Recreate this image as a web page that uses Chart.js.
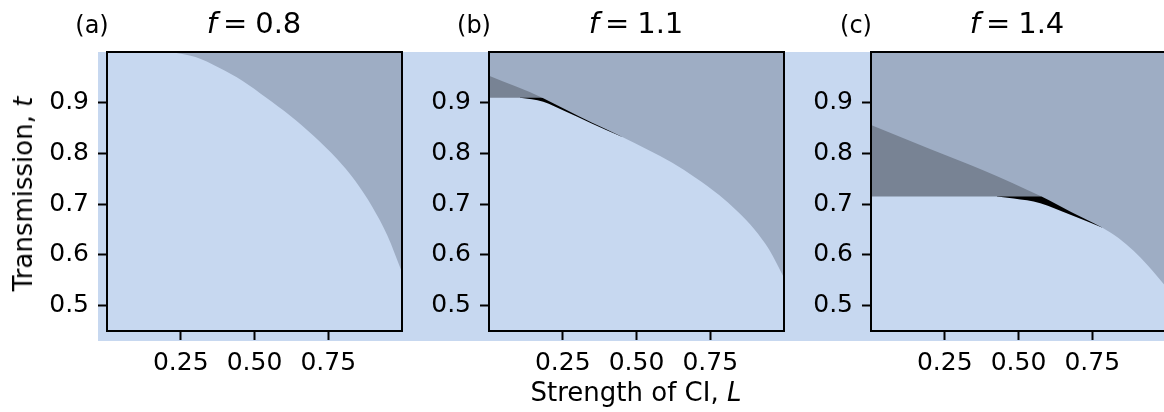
<!DOCTYPE html>
<html>
<head>
<meta charset="utf-8">
<script src="https://cdn.jsdelivr.net/npm/chart.js@4.4.0/dist/chart.umd.min.js"></script>
<style>
  html, body { margin: 0; padding: 0; background: #fff; overflow: hidden; }
  body { width: 1164px; height: 412px; position: relative; font-family: 'DejaVu Sans', sans-serif; color: #000; }
  #band { position: absolute; left: 98px; top: 52px; width: 1066px; height: 289px; background: #c7d8f0; }
  canvas { position: absolute; top: 0; }
  .txt { position: absolute; white-space: nowrap; line-height: 1; }
  .tag { font-size: 24px; top: 13px; transform: translateX(-50%); }
  .ttl { font-size: 29px; top: 9px; transform: translateX(-50%); }
  .ttl i { margin-right: 6px; }
  .ttl span { margin-right: 8px; }
  .ax { font-size: 26px; }
</style>
</head>
<body>
<div id="band"></div>
<canvas id="pa" width="385" height="412" style="left:27px"></canvas>
<canvas id="pb" width="385" height="412" style="left:409px"></canvas>
<canvas id="pc" width="385" height="412" style="left:791px"></canvas>

<div class="txt tag" style="left:92px">(a)</div>
<div class="txt tag" style="left:474px">(b)</div>
<div class="txt tag" style="left:856px">(c)</div>

<div class="txt ttl" style="left:254px"><i>f</i><span>=</span>0.8</div>
<div class="txt ttl" style="left:636px"><i>f</i><span>=</span>1.1</div>
<div class="txt ttl" style="left:1017px"><i>f</i><span>=</span>1.4</div>

<div class="txt ax" style="left:23px; top:194px; transform: translate(-50%, -50%) rotate(-90deg)">Transmission, <i>t</i></div>
<div class="txt ax" style="left:636px; top:379px; transform: translateX(-50%)">Strength of CI, <i>L</i></div>

<script>
// axis ticks
const xTicks = [0.25, 0.5, 0.75]
const yTicks = [0.5, 0.6, 0.7, 0.8, 0.9]

// (a) f = 0.8 : upper edge of the light region
const edgeL_a = [0.22, 0.30, 0.38, 0.46, 0.54, 0.62, 0.70, 0.78, 0.84, 0.90, 0.95, 1.0]
const edgeT_a = [1.0, 0.99, 0.969, 0.943, 0.910, 0.875, 0.835, 0.789, 0.747, 0.694, 0.639, 0.566]

// (b) f = 1.1
const edgeL_b = [0, 0.105, 0.145, 0.184, 0.258, 0.348, 0.45, 0.54, 0.62, 0.70, 0.78, 0.84, 0.90, 0.95, 1.0]
const edgeT_b = [0.91, 0.91, 0.907, 0.902, 0.883, 0.859, 0.833, 0.807, 0.782, 0.752, 0.718, 0.687, 0.650, 0.610, 0.555]
const upperL_b = [0, 0.184, 0.258, 0.348, 0.45]
const upperT_b = [0.953, 0.909, 0.887, 0.861, 0.833]
const shelfL_b = [0, 0.184]
const shelfT_b = [0.91, 0.91]

// (c) f = 1.4
const edgeL_c = [0, 0.427, 0.484, 0.574, 0.676, 0.783, 0.84, 0.89, 0.94, 1.0]
const edgeT_c = [0.715, 0.715, 0.711, 0.702, 0.679, 0.654, 0.633, 0.608, 0.578, 0.537]
const upperL_c = [0, 0.2, 0.38, 0.578, 0.68, 0.783]
const upperT_c = [0.856, 0.809, 0.767, 0.715, 0.684, 0.654]
const shelfL_c = [0, 0.578]
const shelfT_c = [0.715, 0.715]

const GREY = '#9eadc4'
const DARK = '#788394'
const BLACK = '#000000'

Chart.defaults.font.family = "'DejaVu Sans', sans-serif"
Chart.defaults.color = '#000'

function pts(Ls, Ts) {
    return Ls.map((x, i) => ({ x: x, y: Ts[i] }))
}

function area(data, color, order) {
    return {
        data: data,
        order: order,
        fill: 'end',
        backgroundColor: color,
        borderColor: 'rgba(0,0,0,0)',
        borderWidth: 0,
        pointRadius: 0,
        cubicInterpolationMode: 'monotone'
    }
}

function layers(edgeL, edgeT, upperL, upperT, shelfL, shelfT) {
    const edge = pts(edgeL, edgeT)
    if (!upperL) {
        return [area(edge, GREY, 1)]
    }
    const meet = upperL[upperL.length - 1]
    const knee = Math.max(...edgeL.filter((x, i) => edgeT[i] === edgeT[0]))
    return [
        area(edge.filter(p => p.x >= knee && p.x <= meet), BLACK, 3),
        area(pts(shelfL, shelfT), DARK, 2),
        area(pts(upperL, upperT).concat(edge.filter(p => p.x > meet)), GREY, 1)
    ]
}

// black frame round the plot area
const frame = {
    id: 'frame',
    afterDatasetsDraw(chart) {
        const { ctx, chartArea: a } = chart
        ctx.save()
        ctx.strokeStyle = '#000'
        ctx.lineWidth = 2
        ctx.strokeRect(a.left, a.top, a.right - a.left, a.bottom - a.top)
        ctx.restore()
    }
}

function makePanel(id, datasets) {
    const ctx = document.getElementById(id).getContext('2d')
    return new Chart(ctx, {
        type: 'line',
        data: { datasets: datasets },
        plugins: [frame],
        options: {
            responsive: false,
            animation: false,
            devicePixelRatio: 1,
            layout: { padding: { top: 52, right: 10, left: 0, bottom: 0 } },
            plugins: {
                legend: { display: false },
                tooltip: { enabled: false }
            },
            scales: {
                x: {
                    type: 'linear',
                    min: 0,
                    max: 1,
                    afterFit: s => { s.height = 81 },
                    afterBuildTicks: s => { s.ticks = xTicks.map(v => ({ value: v })) },
                    ticks: {
                        callback: v => v.toFixed(2),
                        padding: 8,
                        color: '#000',
                        font: { size: 25 },
                        maxRotation: 0,
                        autoSkip: false
                    },
                    grid: { drawOnChartArea: false, tickLength: 9, tickWidth: 2, tickColor: '#000' },
                    border: { display: false }
                },
                y: {
                    type: 'linear',
                    min: 0.45,
                    max: 1.0,
                    afterFit: s => { s.width = 80 },
                    afterBuildTicks: s => { s.ticks = yTicks.map(v => ({ value: v })) },
                    ticks: {
                        callback: v => v.toFixed(1),
                        padding: 9,
                        color: '#000',
                        font: { size: 25 },
                        autoSkip: false
                    },
                    grid: { drawOnChartArea: false, tickLength: 9, tickWidth: 2, tickColor: '#000' },
                    border: { display: false }
                }
            }
        }
    })
}

makePanel('pa', layers(edgeL_a, edgeT_a))
makePanel('pb', layers(edgeL_b, edgeT_b, upperL_b, upperT_b, shelfL_b, shelfT_b))
makePanel('pc', layers(edgeL_c, edgeT_c, upperL_c, upperT_c, shelfL_c, shelfT_c))
</script>
</body>
</html>
